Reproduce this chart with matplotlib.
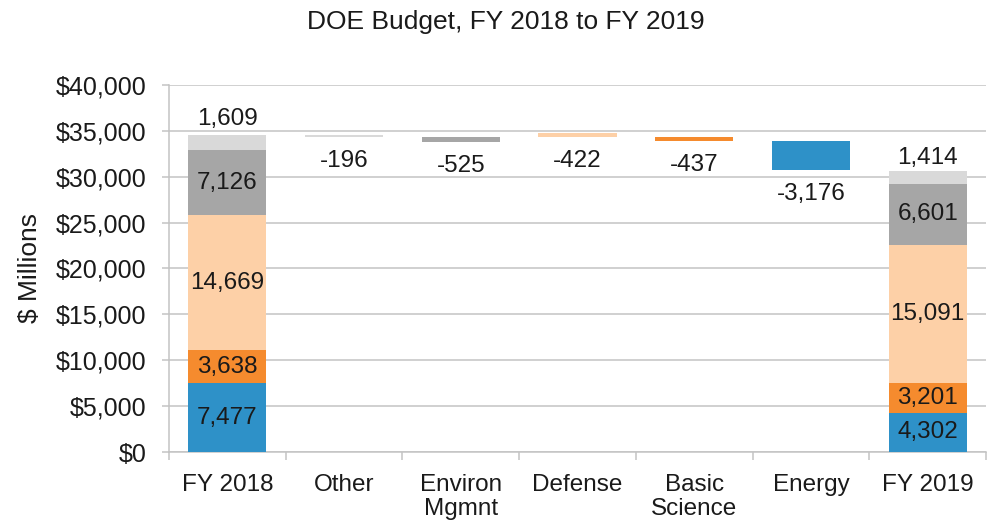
import numpy as np
import matplotlib
matplotlib.use("Agg")
import matplotlib.pyplot as plt

plt.rcParams['font.family'] = ['Liberation Sans', 'DejaVu Sans']

# 数据
categories = ["FY 2018", "Other", "Environ\nMgmnt", "Defense", "Basic\nScience", "Energy", "FY 2019"]
programs = ["Energy", "Basic Science", "Defense", "Environ Mgmnt", "Other"]   # 自下而上
fy2018 = [7477, 3638, 14669, 7126, 1609]
fy2019 = [4302, 3201, 15091, 6601, 1414]
# 中间的变化量（Other, Environ, Defense, Basic, Energy）
changes = [-196, -525, -422, -437, -3176]
change_prog = [4, 3, 2, 1, 0]          # 对应 programs 的序号
change_bases = [34323, 33798, 34330, 33890, 30720]   # 浮动柱的底部

colors = ["#2E91C8", "#F58B2E", "#FDD0A7", "#A6A6A6", "#D9D9D9"]
grid_c = "#C3C3C3"
txt_c = "#1A1A1A"
fs = 17.5

fig = plt.figure(figsize=(9.89, 5.22), dpi=100)
ax = fig.add_axes([169/989, 1 - 452/522, (986 - 169)/989, (452 - 85)/522])

x = np.arange(len(categories))
w = 0.67

# 两端的堆叠柱
for xi, vals, top_off in [(x[0], fy2018, 4.0), (x[-1], fy2019, 1.5)]:
    bottom = 0
    for k, v in enumerate(vals):
        ax.bar(xi, v, width=w, bottom=bottom, color=colors[k], zorder=3)
        if k < len(vals) - 1:
            ax.text(xi, bottom + v / 2, f"{v:,}", ha="center", va="center",
                    fontsize=fs, color=txt_c, zorder=4)
        else:
            ax.annotate(f"{v:,}", (xi, bottom + v), xytext=(0, top_off),
                        textcoords="offset points", ha="center", va="bottom",
                        fontsize=fs, color=txt_c)
        bottom += v

# 中间的浮动柱
for i, (c, p, b) in enumerate(zip(changes, change_prog, change_bases)):
    xi = x[i + 1]
    ax.bar(xi, abs(c), width=w, bottom=b, color=colors[p], zorder=3)
    ax.annotate(f"{c:,}", (xi, b), xytext=(0, -9.5), textcoords="offset points",
                ha="center", va="top", fontsize=fs, color=txt_c)

# 坐标轴
ax.set_ylim(0, 40000)
ax.set_xlim(-0.5, len(categories) - 0.5)
ax.set_yticks(np.arange(0, 40001, 5000))
ax.set_yticklabels([f"${v:,}" for v in range(0, 40001, 5000)], fontsize=18, color=txt_c)
ax.yaxis.grid(True, color=grid_c, linewidth=1.1, zorder=0)
ax.tick_params(axis="y", length=5, width=1.1, color=grid_c, pad=11)

ax.set_xticks(x)
ax.set_xticklabels(categories, fontsize=17.5, color=txt_c, linespacing=1.1)
ax.set_xticks(np.arange(-0.5, len(categories), 1), minor=True)
ax.tick_params(axis="x", which="major", length=0, pad=16)
ax.tick_params(axis="x", which="minor", length=6, width=1.1, color=grid_c)

for s in ["top", "right"]:
    ax.spines[s].set_visible(False)
for s in ["left", "bottom"]:
    ax.spines[s].set_color(grid_c)
    ax.spines[s].set_linewidth(1.1)

ax.set_ylabel("$ Millions", fontsize=19, color=txt_c, labelpad=10)

fig.text(506/989, 1 - 22/522, "DOE Budget, FY 2018 to FY 2019", ha="center", va="center",
         fontsize=19, color=txt_c)

plt.savefig("out.png", dpi=100)
